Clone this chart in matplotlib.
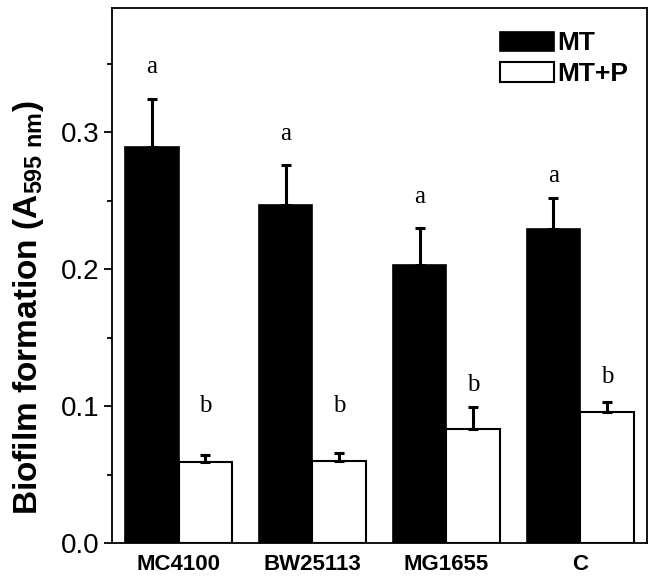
import matplotlib
matplotlib.use("Agg")
import matplotlib.pyplot as plt
import numpy as np
from matplotlib.ticker import MultipleLocator

plt.rcParams['font.family'] = ['Liberation Sans', 'DejaVu Sans']
plt.rcParams['mathtext.fontset'] = 'custom'
plt.rcParams['mathtext.rm'] = 'Liberation Sans'
plt.rcParams['mathtext.bf'] = 'Liberation Sans:bold'

strains = ['MC4100', 'BW25113', 'MG1655', 'C']
mt = [0.289, 0.247, 0.203, 0.229]
mt_err = [0.035, 0.029, 0.027, 0.023]
mtp = [0.059, 0.060, 0.083, 0.096]
mtp_err = [0.005, 0.006, 0.016, 0.007]
mt_letters = ['a', 'a', 'a', 'a']
mtp_letters = ['b', 'b', 'b', 'b']
# baseline heights of the significance letters (annotation positions)
mt_letter_y = [0.343, 0.294, 0.248, 0.264]
mtp_letter_y = [0.096, 0.096, 0.111, 0.117]

fig = plt.figure(figsize=(6.57, 5.8), dpi=100)
ax = fig.add_axes([0.170, 0.0638, 0.815, 0.923])

x = np.arange(len(strains))
w = 0.4
ax.bar(x - w/2, mt, w, color='black', edgecolor='black', linewidth=1.2, label='MT', zorder=2)
ax.bar(x + w/2, mtp, w, color='white', edgecolor='black', linewidth=1.5, label='MT+P', zorder=2)
ax.errorbar(x - w/2, mt, yerr=[np.zeros(4), mt_err], fmt='none', ecolor='black',
            elinewidth=2.2, capsize=3.5, capthick=2.2, zorder=3)
ax.errorbar(x + w/2, mtp, yerr=[np.zeros(4), mtp_err], fmt='none', ecolor='black',
            elinewidth=2.2, capsize=3.5, capthick=2.2, zorder=3)

for i in range(len(strains)):
    ax.text(x[i] - w/2, mt_letter_y[i], mt_letters[i], ha='center', va='baseline',
            family='Liberation Serif', fontsize=18)
    ax.text(x[i] + w/2, mtp_letter_y[i], mtp_letters[i], ha='center', va='baseline',
            family='Liberation Serif', fontsize=18)

ax.set_xlim(-0.5, 3.5)
ax.set_ylim(0, 0.391)
ax.set_xticks(x)
ax.set_xticklabels(strains, fontsize=16, fontweight='bold')
ax.tick_params(axis='x', length=0, pad=8)
ax.yaxis.set_major_locator(MultipleLocator(0.1))
ax.yaxis.set_minor_locator(MultipleLocator(0.05))
ax.set_yticks([0.0, 0.1, 0.2, 0.3])
ax.set_yticklabels(['0.0', '0.1', '0.2', '0.3'], fontsize=20)
ax.tick_params(axis='y', which='major', direction='out', length=6, width=1.3, pad=3)
ax.tick_params(axis='y', which='minor', direction='out', length=3.5, width=1.3)
for s in ax.spines.values():
    s.set_linewidth(1.3)

ax.set_ylabel(r'Biofilm formation (A$_{\mathbf{595\ nm}}$)', fontsize=24, fontweight='bold')
ax.yaxis.set_label_coords(-0.123, 0.44)

leg = ax.legend(loc='upper right', frameon=False, prop={'weight': 'bold', 'size': 19},
                handlelength=2.05, handleheight=0.75, handletextpad=0.15, labelspacing=0.25,
                borderaxespad=0.3, bbox_to_anchor=(1.0, 0.99))

fig.savefig('out.png', dpi=100)
